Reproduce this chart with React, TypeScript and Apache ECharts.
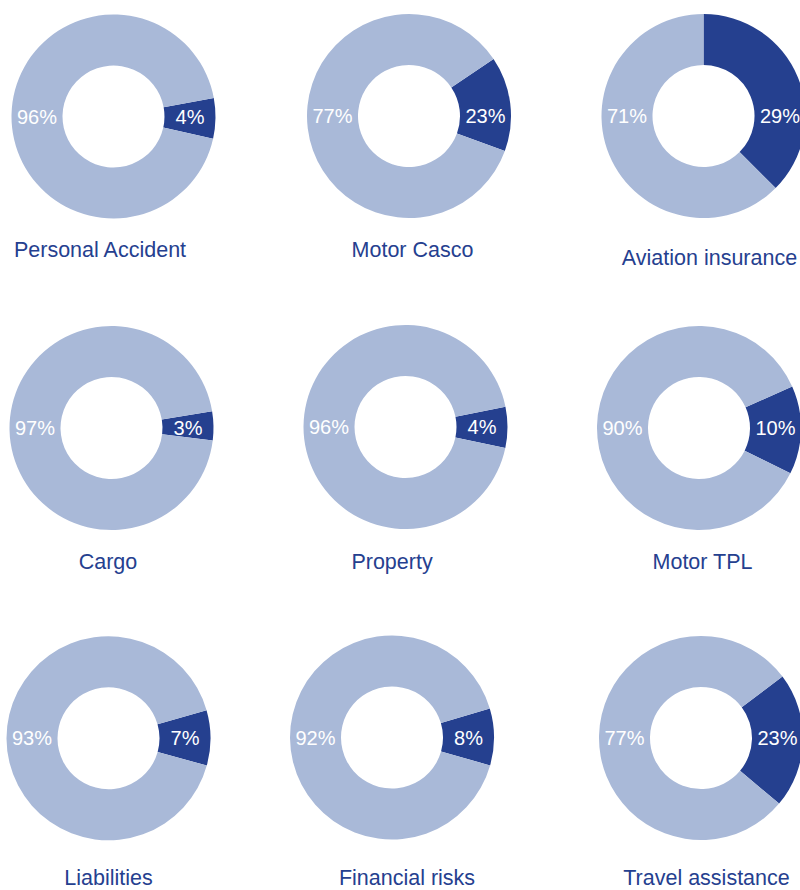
import React, { useEffect, useRef } from "react";
import * as echarts from "echarts";

// ---- data ----
const categories = [
  "Personal Accident",
  "Motor Casco",
  "Aviation insurance",
  "Cargo",
  "Property",
  "Motor TPL",
  "Liabilities",
  "Financial risks",
  "Travel assistance",
];
// printed percentages (labels)
const printedDark = [4, 23, 29, 3, 4, 10, 7, 8, 23];
const printedLight = [96, 77, 71, 97, 96, 90, 93, 92, 77];
// slice sizes as drawn in the picture (share of the ring, %)
const darkSlice = [6.4, 15, 37.5, 4.6, 6.5, 14, 8.75, 9, 21.4];
const lightSlice = [93.6, 85, 62.5, 95.4, 93.5, 86, 91.25, 91, 78.6];

// ---- layout (pixels) ----
const centers: [number, number][] = [
  [113.5, 116.5], [409, 116], [703.5, 116],
  [111.5, 428], [405.5, 427], [699, 428],
  [108.5, 738.3], [392, 737.5], [701, 738],
];
const startAngles = [10.5, 34, 90, 9.5, 11.5, 24, 16, 16.5, 37];
const titlePos: [number, number][] = [
  [100, 250], [412.5, 250], [709.5, 258],
  [108, 562], [392, 561.5], [702.5, 561.5],
  [108.5, 878], [407, 878], [706.5, 878],
];

const DARK = "#25408f";
const LIGHT = "#a9b9d8";
const FONT = "'Liberation Sans', Arial, Helvetica, sans-serif";
const R_IN = 51;
const R_OUT = 102;
const R_MID = (R_IN + R_OUT) / 2;

export default function App() {
  const ref = useRef<HTMLDivElement>(null);
  useEffect(() => {
    document.body.style.margin = "0";
    if (!ref.current) return;
    const chart = echarts.init(ref.current, undefined, { renderer: "svg" });

    const series = categories.map((name, i) => {
      const [cx, cy] = centers[i];
      return {
        type: "pie",
        name,
        center: [cx, cy],
        radius: [R_IN, R_OUT],
        startAngle: startAngles[i],
        clockwise: true,
        silent: true,
        avoidLabelOverlap: false,
        data: [
          { value: darkSlice[i], name: "dark", itemStyle: { color: DARK } },
          { value: lightSlice[i], name: "light", itemStyle: { color: LIGHT } },
        ],
        label: {
          show: true,
          position: "inside",
          color: "#ffffff",
          fontSize: 20,
          fontFamily: FONT,
          formatter: (p: any) =>
            (p.dataIndex === 0 ? printedDark[i] : printedLight[i]) + "%",
        },
        labelLine: { show: false },
        labelLayout: (p: any) => ({
          x: cx + (p.dataIndex === 0 ? R_MID : -R_MID),
          y: cy,
          align: "center",
          verticalAlign: "middle",
        }),
        emphasis: { disabled: true },
      };
    });

    const graphic = categories.map((name, i) => ({
      type: "text",
      x: titlePos[i][0],
      y: titlePos[i][1],
      style: {
        text: name,
        fill: DARK,
        font: `21.5px ${FONT}`,
        align: "center",
        verticalAlign: "middle",
        textAlign: "center",
        textVerticalAlign: "middle",
      },
    }));

    chart.setOption({
      animation: false,
      backgroundColor: "#ffffff",
      series,
      graphic,
    } as any);
    return () => chart.dispose();
  }, []);
  return (
    <div
      ref={ref}
      style={{ position: "absolute", left: 0, top: 0, width: 800, height: 890 }}
    />
  );
}
